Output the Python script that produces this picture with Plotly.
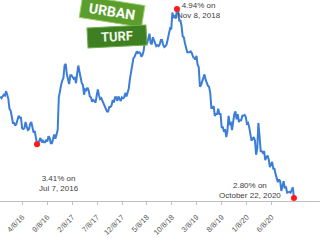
import pandas as pd
import plotly.graph_objects as go

# Weekly 30-year mortgage rate (%), Thursdays
start_date = "2015-11-26"
rates_2015 = [3.95, 3.93, 3.95, 3.97, 3.96, 4.01]
rates_2016 = [3.97, 3.92, 3.81, 3.79, 3.72, 3.65, 3.65, 3.62, 3.64, 3.68, 3.73, 3.71, 3.71,
              3.59, 3.58, 3.59, 3.66, 3.61, 3.57, 3.58, 3.64, 3.66, 3.60, 3.54, 3.56, 3.48,
              3.41, 3.42, 3.45, 3.48, 3.43, 3.45, 3.43, 3.43, 3.46, 3.44, 3.50, 3.48, 3.42,
              3.42, 3.47, 3.52, 3.47, 3.54, 3.57, 3.94, 4.03, 4.08, 4.13, 4.16, 4.30, 4.32]
rates_2017 = [4.20, 4.12, 4.09, 4.19, 4.19, 4.17, 4.15, 4.16, 4.10, 4.21, 4.30, 4.23, 4.14,
              4.10, 4.08, 3.97, 4.03, 4.02, 4.05, 4.02, 3.95, 3.94, 3.89, 3.91, 3.90, 3.88,
              3.96, 4.03, 3.96, 3.92, 3.93, 3.90, 3.89, 3.86, 3.82, 3.78, 3.78, 3.83, 3.83,
              3.85, 3.91, 3.88, 3.94, 3.94, 3.90, 3.95, 3.92, 3.90, 3.94, 3.93, 3.94, 3.99]
rates_2018 = [3.95, 3.99, 4.04, 4.15, 4.22, 4.32, 4.38, 4.40, 4.43, 4.46, 4.44, 4.45, 4.44,
              4.40, 4.42, 4.47, 4.58, 4.55, 4.55, 4.61, 4.66, 4.56, 4.54, 4.62, 4.57, 4.55,
              4.52, 4.53, 4.52, 4.54, 4.59, 4.59, 4.53, 4.51, 4.52, 4.54, 4.60, 4.65, 4.72,
              4.71, 4.90, 4.85, 4.86, 4.83, 4.94, 4.94, 4.81, 4.81, 4.75, 4.63, 4.62, 4.55]
rates_2019 = [4.51, 4.45, 4.45, 4.45, 4.46, 4.44, 4.40, 4.38, 4.37, 4.41, 4.31, 4.28, 4.06,
              4.08, 4.12, 4.17, 4.20, 4.14, 4.10, 4.07, 4.06, 3.99, 3.82, 3.82, 3.84, 3.73,
              3.75, 3.75, 3.81, 3.75, 3.75, 3.60, 3.60, 3.55, 3.58, 3.49, 3.56, 3.73, 3.64,
              3.65, 3.57, 3.69, 3.75, 3.78, 3.69, 3.75, 3.66, 3.68, 3.68, 3.73, 3.73, 3.74]
rates_2020 = [3.72, 3.64, 3.65, 3.60, 3.51, 3.45, 3.47, 3.49, 3.45, 3.29, 3.36, 3.65, 3.50,
              3.33, 3.33, 3.31, 3.33, 3.23, 3.26, 3.28, 3.24, 3.15, 3.18, 3.21, 3.13, 3.13,
              3.07, 3.03, 2.98, 3.01, 2.99, 2.88, 2.96, 2.99, 2.91, 2.93, 2.86, 2.87, 2.87,
              2.86, 2.89, 2.92, 2.80]

tick_dates = ["2016-04-08", "2016-09-08", "2017-02-08", "2017-07-08", "2017-12-08",
              "2018-05-08", "2018-10-08", "2019-03-08", "2019-08-08", "2020-01-08", "2020-06-08"]
tick_labels = ["4/8/16", "9/8/16", "2/8/17", "7/8/17", "12/8/17", "5/8/18", "10/8/18",
               "3/8/19", "8/8/19", "1/8/20", "6/8/20"]

rates = rates_2015 + rates_2016 + rates_2017 + rates_2018 + rates_2019 + rates_2020
dates = pd.date_range(start_date, periods=len(rates), freq="7D")
s = pd.Series(rates, index=dates)

low_date = s[:"2017-12-31"].idxmin()
high_date = s.idxmax()
last_date = s.index[-1]
hl_dates = [low_date, high_date, last_date]
hl_vals = [s[d] for d in hl_dates]

fig = go.Figure()
fig.add_trace(go.Scatter(x=dates, y=rates, mode="lines",
                         line=dict(color="#3b7dd8", width=2), hoverinfo="skip"))
fig.add_trace(go.Scatter(x=hl_dates, y=hl_vals, mode="markers",
                         marker=dict(color="#ff1a1a", size=6), hoverinfo="skip"))

W, H = 320, 201
def px(x, y):
    return x / W, 1 - y / H

font = dict(family="Liberation Sans, Arial, sans-serif", size=8, color="#404040")
anns = []
for text, (x, y) in [("4.94% on<br>Nov 8, 2018", (199, 10)),
                     ("3.41% on<br>Jul 7, 2016", (59, 183)),
                     ("2.80% on<br>October 22, 2020", (250, 190))]:
    ax, ay = px(x, y)
    anns.append(dict(text=text, x=ax, y=ay, xref="paper", yref="paper", showarrow=False,
                     xanchor="center", yanchor="middle", align="center", font=font))

# UrbanTurf logo signs
ax, ay = px(112, 12)
anns.append(dict(text="<b>URBAN</b>", x=ax, y=ay, xref="paper", yref="paper", showarrow=False,
                 xanchor="center", yanchor="middle",
                 textangle=9, bgcolor="#5c9e2e", bordercolor="#9fd070", borderwidth=1,
                 width=60, height=19,
                 font=dict(family="Roboto, Liberation Sans, sans-serif", size=14, color="white")))
ax, ay = px(117, 37)
anns.append(dict(text="<b>TURF</b>", x=ax, y=ay, xref="paper", yref="paper", showarrow=False,
                 xanchor="center", yanchor="middle",
                 textangle=-3, bgcolor="#3f7f24", bordercolor="#6fae45", borderwidth=1,
                 width=56, height=17,
                 font=dict(family="Roboto, Liberation Sans, sans-serif", size=13, color="#eef8e4")))

fig.update_layout(
    width=320, height=240,
    margin=dict(l=0, r=0, t=0, b=39),
    paper_bgcolor="white", plot_bgcolor="white",
    showlegend=False,
    annotations=anns,
    xaxis=dict(type="date", range=["2015-11-24", "2021-03-30"],
               tickvals=tick_dates, ticktext=tick_labels, tickangle=-45,
               ticks="outside", ticklen=3, tickcolor="#bfbfbf",
               ticklabelstandoff=5,
               showline=True, linecolor="#bfbfbf", linewidth=1,
               showgrid=False, zeroline=False, automargin=False,
               tickfont=dict(family="Liberation Sans, Arial, sans-serif", size=7.5, color="#595959")),
    yaxis=dict(range=[2.766, 5.042], visible=False, showgrid=False, zeroline=False),
)

fig.write_html("out.html")
